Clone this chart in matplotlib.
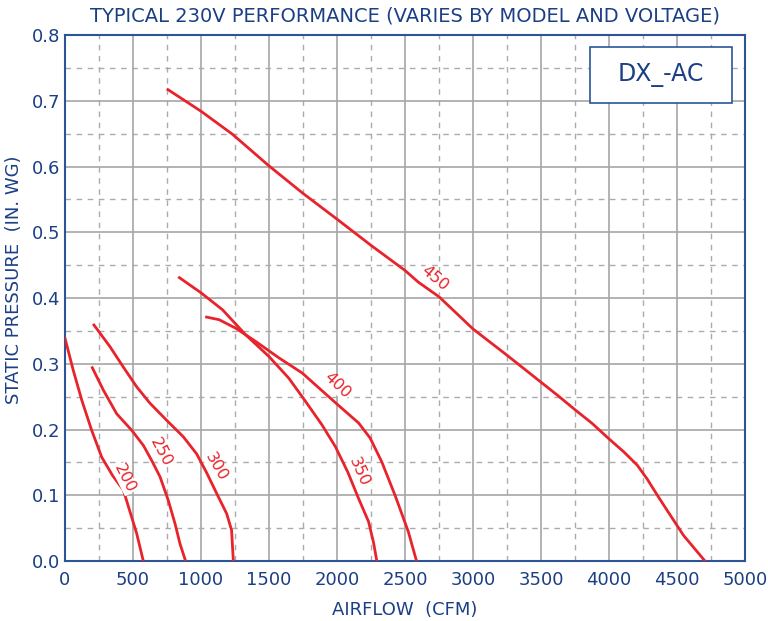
import matplotlib.pyplot as plt
from matplotlib.patches import Rectangle

# fan curves (airflow CFM, static pressure in. WG)
cfm_200 = [0, 61, 123, 196, 270, 350, 429, 490, 527, 576]
sp_200 = [0.339, 0.290, 0.245, 0.199, 0.158, 0.130, 0.108, 0.067, 0.042, 0.0]

cfm_250 = [201, 282, 380, 490, 576, 640, 699, 760, 809, 846, 887]
sp_250 = [0.294, 0.260, 0.224, 0.199, 0.176, 0.152, 0.128, 0.092, 0.057, 0.026, 0.0]

cfm_300 = [213, 331, 429, 527, 625, 748, 870, 968, 1040, 1115, 1189, 1225, 1238]
sp_300 = [0.359, 0.326, 0.295, 0.265, 0.240, 0.214, 0.189, 0.163, 0.135, 0.103, 0.072, 0.047, 0.0]

cfm_350 = [841, 1000, 1159, 1329, 1500, 1646, 1768, 1890, 1988, 2080, 2159, 2232, 2268, 2293]
sp_350 = [0.431, 0.408, 0.382, 0.344, 0.311, 0.278, 0.243, 0.207, 0.174, 0.135, 0.095, 0.060, 0.029, 0.0]

cfm_400 = [1041, 1134, 1256, 1402, 1573, 1744, 1890, 2037, 2159, 2244, 2329, 2427, 2524, 2585]
sp_400 = [0.371, 0.367, 0.354, 0.334, 0.309, 0.286, 0.259, 0.232, 0.210, 0.187, 0.151, 0.100, 0.045, 0.0]

cfm_450 = [757, 1001, 1232, 1500, 1751, 2000, 2251, 2500, 2599, 2750, 3000, 3250,
           3500, 3622, 3751, 3878, 3999, 4109, 4207, 4280, 4365, 4450, 4548, 4706]
sp_450 = [0.717, 0.684, 0.649, 0.601, 0.559, 0.520, 0.480, 0.442, 0.424, 0.402, 0.353, 0.313,
          0.272, 0.252, 0.230, 0.209, 0.186, 0.166, 0.146, 0.125, 0.097, 0.070, 0.039, 0.0]

curves = [(cfm_200, sp_200), (cfm_250, sp_250), (cfm_300, sp_300),
          (cfm_350, sp_350), (cfm_400, sp_400), (cfm_450, sp_450)]

# inline labels: text, centre and angle
labels = ['200', '250', '300', '350', '400', '450']
label_x = [441, 706, 1115, 2163, 2005, 2721]
label_y = [0.125, 0.166, 0.143, 0.135, 0.267, 0.430]
label_rot = [-63, -62, -60, -66, -44, -40]

blue = '#1b3f85'
red = '#e8232b'

fig = plt.figure(figsize=(7.68, 6.21), dpi=100)
ax = fig.add_axes([0.0846, 0.0966, 0.8854, 0.847])

for x, y in curves:
    ax.plot(x, y, color=red, lw=2, zorder=3, solid_joinstyle='round')

for t, x, y, r in zip(labels, label_x, label_y, label_rot):
    ax.text(x, y, t, rotation=r, color=red, fontsize=11.5, ha='center', va='center',
            rotation_mode='anchor', zorder=4,
            bbox=dict(facecolor='white', edgecolor='none', pad=0.2))

ax.set_xlim(0, 5000)
ax.set_ylim(0, 0.8)
ax.set_xticks(range(0, 5001, 500))
ax.set_xticks(range(250, 5000, 500), minor=True)
ax.set_yticks([i / 10 for i in range(9)])
ax.set_yticklabels([f'{i / 10:.1f}' for i in range(9)])
ax.set_yticks([0.05 + i / 10 for i in range(8)], minor=True)
ax.grid(True, which='major', color='#a6a6a6', lw=1.2)
ax.grid(True, which='minor', color='#ababab', lw=1, ls=(0, (4, 4)))
ax.set_axisbelow(True)
ax.tick_params(which='both', length=0, labelsize=13, labelcolor=blue)
ax.tick_params(axis='x', pad=7)
for s in ax.spines.values():
    s.set_color('#2b5597')
    s.set_linewidth(1.5)

ax.set_xlabel('AIRFLOW  (CFM)', color=blue, fontsize=13, labelpad=9)
ax.set_ylabel('STATIC PRESSURE  (IN. WG)', color=blue, fontsize=13)
ax.yaxis.set_label_coords(-0.062, 0.534)
ax.set_title('TYPICAL 230V PERFORMANCE (VARIES BY MODEL AND VOLTAGE)', color=blue,
             fontsize=14, pad=10)

ax.add_patch(Rectangle((0.772, 0.871), 0.209, 0.106, transform=ax.transAxes,
                       facecolor='white', edgecolor='#2b5597', lw=1.2, zorder=5))
ax.text(0.8765, 0.924, 'DX_-AC', transform=ax.transAxes, ha='center', va='center',
        color=blue, fontsize=17, zorder=6)

fig.savefig('out.png', dpi=100)
